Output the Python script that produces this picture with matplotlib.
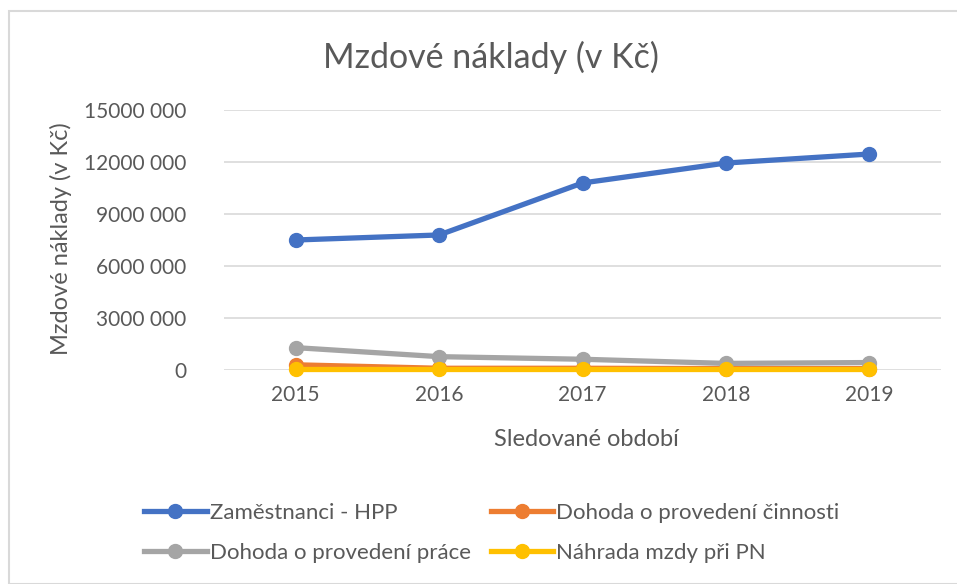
import matplotlib.pyplot as plt
from matplotlib.patches import Rectangle
from matplotlib.lines import Line2D

years = ["2015", "2016", "2017", "2018", "2019"]
hpp = [7500000, 7790000, 10790000, 11940000, 12460000]
dpc = [300000, 100000, 100000, 80000, 80000]
dpp = [1290000, 770000, 620000, 380000, 430000]
nahrada = [40000, 40000, 40000, 40000, 40000]

series = [
    ("Zaměstnanci - HPP", hpp, "#4472C4"),
    ("Dohoda o provedení činnosti", dpc, "#ED7D31"),
    ("Dohoda o provedení práce", dpp, "#A5A5A5"),
    ("Náhrada mzdy při PN", nahrada, "#FFC000"),
]

yticks = [0, 3000000, 6000000, 9000000, 12000000, 15000000]
ytick_labels = ["0", "3000 000", "6000 000", "9000 000", "12000 000", "15000 000"]

plt.rcParams['font.family'] = ['Lato', 'DejaVu Sans']
txt = "#595959"

W, H = 957, 584
fig = plt.figure(figsize=(W / 100, H / 100), dpi=100)
fig.patches.append(Rectangle((9 / W, 0), 1.0, 1 - 11 / H, transform=fig.transFigure,
                             fill=False, edgecolor="#D9D9D9", linewidth=1.5))

ax = fig.add_axes([224 / W, 1 - 370 / H, (941 - 224) / W, 260 / H])
x = list(range(len(years)))
for i, (name, vals, col) in enumerate(series):
    ax.plot(x, vals, color=col, lw=3.8, marker="o", ms=10, clip_on=False,
            solid_capstyle="round", zorder=3 + i)

ax.set_xlim(-0.5, 4.5)
ax.set_ylim(0, 15000000)
ax.set_yticks(yticks)
ax.set_yticklabels(ytick_labels)
ax.set_xticks(x)
ax.set_xticklabels(years)
ax.grid(axis="y", color="#D9D9D9", lw=1.2)
ax.set_axisbelow(True)
for s in ax.spines.values():
    s.set_visible(False)
ax.tick_params(length=0, labelsize=15, colors=txt, pad=11)
ax.tick_params(axis="y", pad=27)

# axis titles and chart title placed at their spots in the reference
fig.text(586 / W, 1 - 440 / H, "Sledované období", fontsize=17, color=txt,
         ha="center", va="center")
fig.text(61 / W, 1 - 239 / H, "Mzdové náklady (v Kč)", fontsize=17, color=txt,
         ha="center", va="center", rotation=90)
fig.text(491 / W, 1 - 57 / H, "Mzdové náklady (v Kč)", fontsize=24.5, color=txt,
         ha="center", va="center")

# legend fills row by row in the reference: HPP, DPC / DPP, PN
leg_order = [0, 2, 1, 3]
handles = [Line2D([0], [0], color=series[i][2], lw=3.8, marker="o", ms=10) for i in leg_order]
labels = [series[i][0] for i in leg_order]
fig.legend(handles, labels, ncol=2, loc="center", bbox_to_anchor=(492 / W, 1 - 533 / H),
           frameon=False, fontsize=16, labelcolor=txt, columnspacing=0.9,
           handlelength=2.8, handletextpad=0.15, labelspacing=0.9)

fig.savefig("out.png", dpi=100)
